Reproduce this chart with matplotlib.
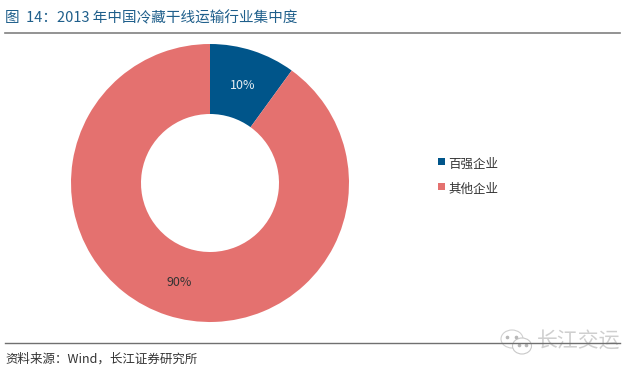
import matplotlib
matplotlib.use('Agg')
import matplotlib.pyplot as plt
from matplotlib.patches import Rectangle, Ellipse

plt.rcParams['font.family'] = ['Noto Sans CJK SC', 'DejaVu Sans']

labels = ['百强企业', '其他企业']
values = [10, 90]
pct_labels = ['10%', '90%']
pct_colors = ['#e8eef3', '#333333']
colors = ['#00558a', '#e4716f']

title = '图  14：2013 年中国冷藏干线运输行业集中度'
source = '资料来源：Wind，长江证券研究所'
watermark = '长江交运'

W, H = 640, 373
fig = plt.figure(figsize=(W / 100, H / 100), dpi=100, facecolor='white')

# donut, centre (210, 183), radius 139
R = 139
ax = fig.add_axes([(210 - R) / W, 1 - (183 + R) / H, 2 * R / W, 2 * R / H])
wedges, _ = ax.pie(values, colors=colors, startangle=90, counterclock=False,
                   radius=1, wedgeprops=dict(width=1 - 69 / 139, linewidth=0))
ax.set_xlim(-1, 1)
ax.set_ylim(-1, 1)
ax.set_aspect('equal')

# full-figure overlay in pixel coords for the text and rules
bg = fig.add_axes([0, 0, 1, 1], zorder=5)
bg.set_xlim(0, W)
bg.set_ylim(H, 0)
bg.axis('off')

bg.text(5, 18, title, fontsize=10.5, color='#1f5f8b', va='center', ha='left')
bg.plot([5, 620], [32.5, 32.5], color='#808080', lw=1.2)
bg.text(5, 359, source, fontsize=9, color='#333333', va='center', ha='left')

# watermark: bubbles and name over the bottom rule
bg.add_patch(Ellipse((512, 339), 22, 18, fc='white', ec='#d0d0d0', lw=0.8))
bg.add_patch(Ellipse((522, 346), 19, 16, fc='white', ec='#c8c8c8', lw=0.8))
for x, y in [(507, 337), (516, 337), (519, 345), (526, 345)]:
    bg.plot(x, y, 'o', ms=1.6, color='#b8b8b8')
bg.text(537, 341, watermark, fontsize=15, color='#cfcfcf', va='center', ha='left')
bg.plot([5, 620], [342.5, 342.5], color='#707070', lw=1, zorder=6)

bg.text(243, 85.5, pct_labels[0], fontsize=9, color=pct_colors[0], ha='center', va='center')
bg.text(179, 282, pct_labels[1], fontsize=9, color=pct_colors[1], ha='center', va='center')

# legend
for y, lab, c in zip([161, 186], labels, colors):
    bg.add_patch(Rectangle((438, y - 3.5), 7, 7, color=c, lw=0))
    bg.text(448, y + 3, lab, fontsize=9, color='#333333', va='center', ha='left')

fig.savefig('out.png', dpi=100)
